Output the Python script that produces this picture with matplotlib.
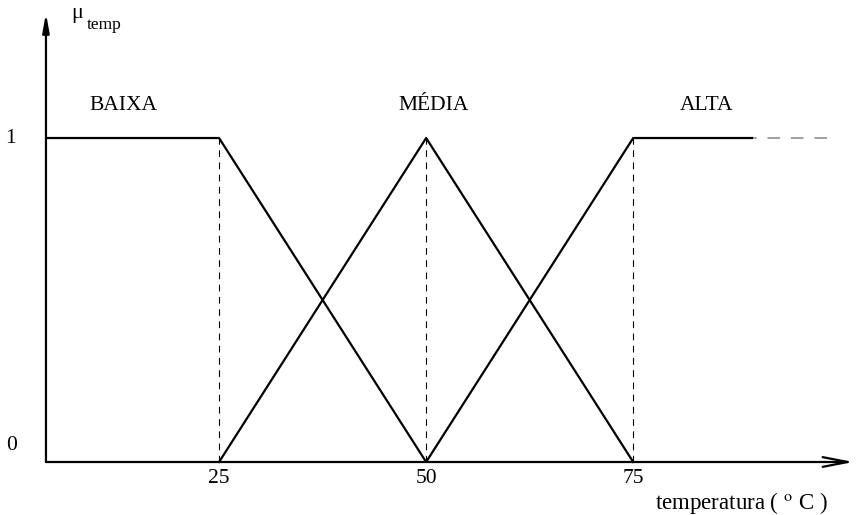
import matplotlib
matplotlib.use("Agg")
import matplotlib.pyplot as plt

# ---- data ----
x_start = 4.1          # where the universe drawn starts (at the y axis)
baixa_x = [x_start, 25, 50]
baixa_y = [1, 1, 0]
media_x = [25, 50, 75]
media_y = [0, 1, 0]
alta_x = [50, 75, 89.5]
alta_y = [0, 1, 1]
alta_ext_x = [89.5, 99]
alta_ext_y = [1, 1]
tick_vals = [25, 50, 75]
tick_labels = ["25", "50", "75"]
set_names = ["BAIXA", "MÉDIA", "ALTA"]
set_label_x = [13.4, 50.9, 83.9]

plt.rcParams['font.family'] = ['Liberation Serif', 'DejaVu Serif']
plt.rcParams['mathtext.fontset'] = 'stix'

fig = plt.figure(figsize=(8.56, 5.15), dpi=100)
ax = fig.add_axes([0, 0, 1, 1])
ax.set_xlim(-1.45, 101.9)
ax.set_ylim(-0.1636, 1.426)
ax.axis('off')

lw = 1.6
ax.plot(baixa_x, baixa_y, color='black', lw=lw, solid_capstyle='butt')
ax.plot(media_x, media_y, color='black', lw=lw)
ax.plot(alta_x, alta_y, color='black', lw=lw, solid_capstyle='butt')
ax.plot(alta_ext_x, alta_ext_y, color='#999999', lw=1.3, linestyle=(5, (7, 6)))

for t in tick_vals:
    ax.plot([t, t], [0, 1], color='black', lw=0.8, linestyle=(0, (6, 5)))

# axes with arrows
ax.annotate('', xy=(101.6, 0), xytext=(x_start, 0), annotation_clip=False,
            arrowprops=dict(arrowstyle='->,head_length=1.8,head_width=0.35',
                            lw=lw, color='black', shrinkA=0, shrinkB=0))
ax.annotate('', xy=(x_start, 1.385), xytext=(x_start, 0), annotation_clip=False,
            arrowprops=dict(arrowstyle='-|>,head_length=1.1,head_width=0.2',
                            lw=lw, color='black', shrinkA=0, shrinkB=0))

fs = 15.5
for t, lab in zip(tick_vals, tick_labels):
    ax.text(t, -0.05, lab, ha='center', va='center', fontsize=fs)
ax.text(-0.2, 1.0, "1", ha='center', va='center', fontsize=fs)
ax.text(-0.1, 0.05, "0", ha='center', va='center', fontsize=fs)

for name, xx in zip(set_names, set_label_x):
    ax.text(xx, 1.1, name, ha='center', va='center', fontsize=fs)

ax.text(7.2, 1.385, "μ", ha='left', va='center', fontsize=16)
ax.text(9.0, 1.35, "temp", ha='left', va='center', fontsize=12.5)

ax.text(77.6, -0.126, r"temperatura ( $^{\mathrm{o}}$ C )", ha='left', va='center', fontsize=16.5)

fig.savefig("out.png", dpi=100)
